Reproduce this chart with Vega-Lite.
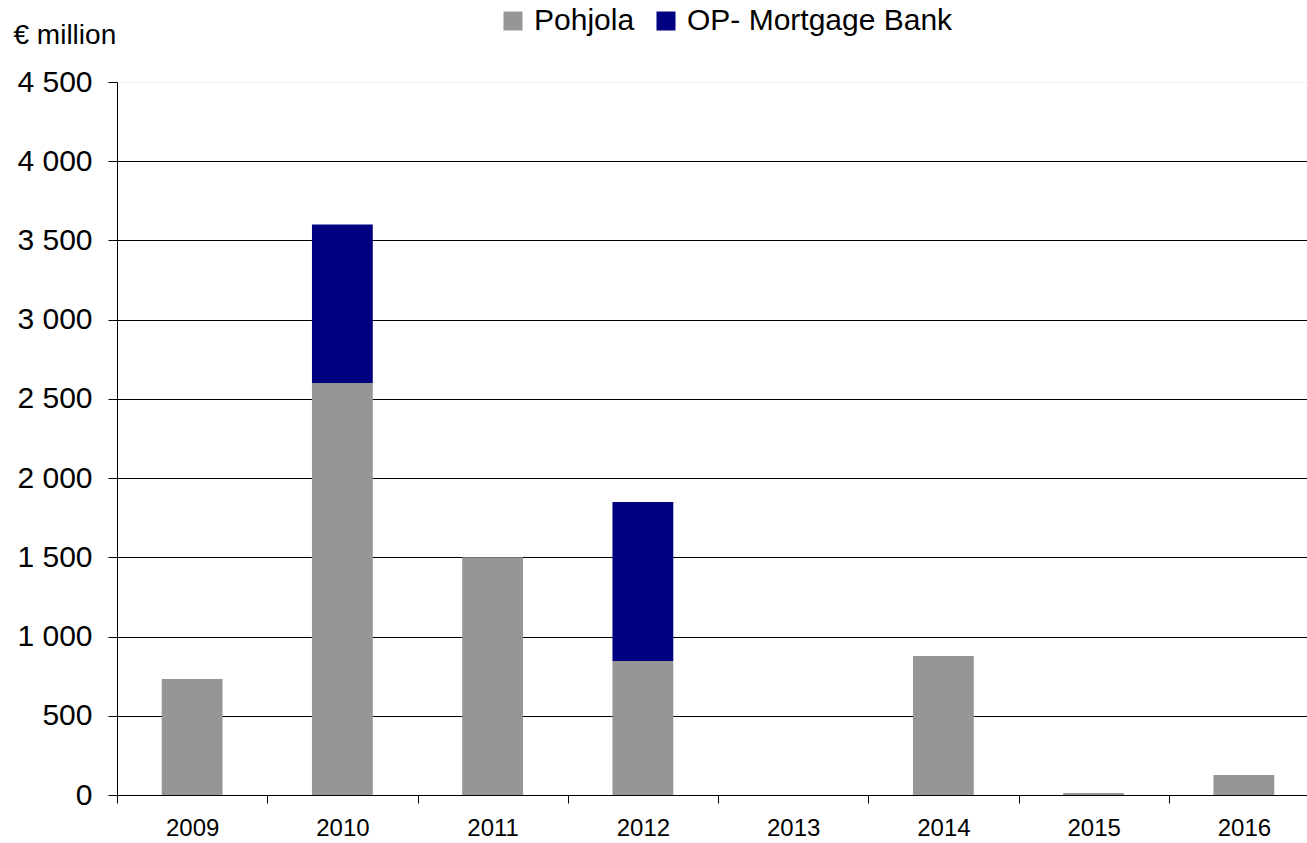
{
  "$schema": "https://vega.github.io/schema/vega-lite/v6.json",
  "width": 1202,
  "height": 713,
  "autosize": {"type": "none"},
  "padding": {"left": 117, "top": 82, "right": 0, "bottom": 48},
  "background": "white",
  "config": {
    "font": "Liberation Sans",
    "view": {"stroke": null}
  },
  "data": {
    "values": [
      {"year": "2009", "series": "Pohjola", "value": 732},
      {"year": "2010", "series": "Pohjola", "value": 2600},
      {"year": "2010", "series": "OP- Mortgage Bank", "value": 1000},
      {"year": "2011", "series": "Pohjola", "value": 1500},
      {"year": "2012", "series": "Pohjola", "value": 846},
      {"year": "2012", "series": "OP- Mortgage Bank", "value": 1004},
      {"year": "2013", "series": "Pohjola", "value": 0},
      {"year": "2014", "series": "Pohjola", "value": 878},
      {"year": "2015", "series": "Pohjola", "value": 12},
      {"year": "2016", "series": "Pohjola", "value": 126}
    ]
  },
  "mark": {"type": "bar", "width": {"band": 0.405}},
  "encoding": {
    "x": {
      "field": "year",
      "type": "ordinal",
      "scale": {"paddingInner": 0, "paddingOuter": 0},
      "axis": {
        "title": null,
        "labelAngle": 0,
        "labelFontSize": 24,
        "labelColor": "black",
        "labelPadding": 13,
        "tickBand": "extent",
        "tickColor": "black",
        "tickSize": 8,
        "domainColor": "black",
        "grid": false
      }
    },
    "y": {
      "field": "value",
      "type": "quantitative",
      "stack": "zero",
      "scale": {"domain": [0, 4500], "nice": false},
      "axis": {
        "values": [0, 500, 1000, 1500, 2000, 2500, 3000, 3500, 4000, 4500],
        "labelExpr": "replace(format(datum.value, ','), ',', ' ')",
        "labelFontSize": 30,
        "labelColor": "black",
        "labelPadding": 16,
        "tickColor": "black",
        "tickSize": 9,
        "domainColor": "black",
        "grid": true,
        "gridColor": {"condition": {"test": "datum.value == 4500", "value": "#eeeeee"}, "value": "black"},
        "gridWidth": 1,
        "title": "€ million",
        "titleAngle": 0,
        "titleAlign": "left",
        "titleBaseline": "middle",
        "titleFontSize": 28,
        "titleFontWeight": "normal",
        "titleColor": "black",
        "titleX": -104,
        "titleY": -47
      }
    },
    "color": {
      "field": "series",
      "type": "nominal",
      "scale": {"domain": ["Pohjola", "OP- Mortgage Bank"], "range": ["#969696", "#000080"]},
      "legend": {
        "title": null,
        "orient": "none",
        "direction": "horizontal",
        "legendX": 381,
        "legendY": -76,
        "symbolType": "square",
        "symbolSize": 361,
        "symbolStrokeWidth": 0,
        "symbolOpacity": 1,
        "labelFontSize": 30,
        "labelLimit": 0,
        "labelColor": "black",
        "labelOffset": 6,
        "columnPadding": 16
      }
    },
    "order": {"field": "series", "sort": "descending"}
  }
}
